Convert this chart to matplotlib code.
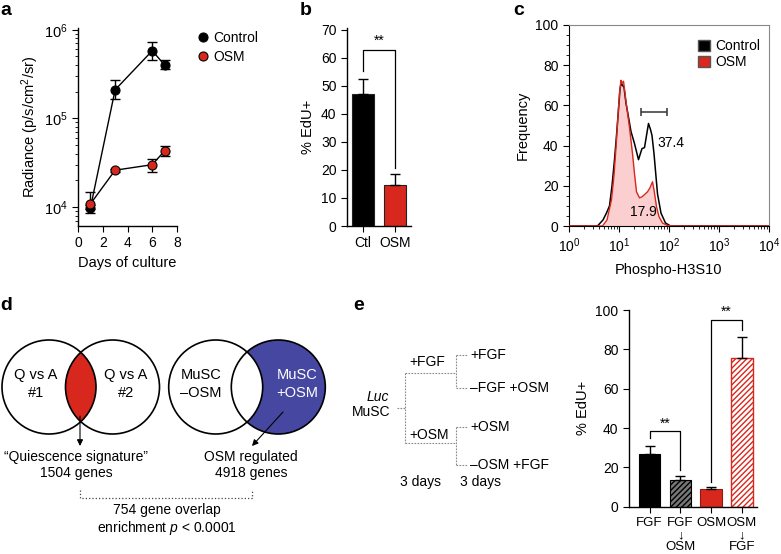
import numpy as np
import matplotlib
matplotlib.use('Agg')
import matplotlib.pyplot as plt
from matplotlib.patches import Circle, Patch
from matplotlib.ticker import MultipleLocator, LogLocator, NullFormatter

plt.rcParams['font.family'] = ['Liberation Sans', 'DejaVu Sans']
plt.rcParams['font.size'] = 10
plt.rcParams['mathtext.fontset'] = 'custom'
plt.rcParams['mathtext.rm'] = 'Liberation Sans'
plt.rcParams['mathtext.it'] = 'Liberation Sans:italic'
plt.rcParams['axes.linewidth'] = 1.0
plt.rcParams['xtick.direction'] = 'out'
plt.rcParams['ytick.direction'] = 'out'
plt.rcParams['xtick.major.size'] = 4
plt.rcParams['ytick.major.size'] = 4
plt.rcParams['xtick.minor.size'] = 2.5
plt.rcParams['ytick.minor.size'] = 2.5

RED = '#d8281d'
BLUE = '#4547a0'
PINK = '#fbcfcf'

# ---- panel a: radiance over days
days = [1, 3, 6, 7]
ctrl_rad = [9700, 210000, 580000, 400000]
ctrl_lo = [8500, 165000, 450000, 360000]
ctrl_hi = [10500, 270000, 730000, 450000]
osm_rad = [10800, 26000, 30000, 43000]
osm_lo = [9600, 25000, 25000, 38000]
osm_hi = [14900, 27000, 35000, 49000]

# ---- panel b: % EdU+
b_groups = ['Ctl', 'OSM']
b_vals = [47, 14.5]
b_err = [5.5, 4.0]
b_bracket = [55.4, 62.9, 20.7]  # left leg bottom, top, right leg bottom

# ---- panel c: histograms (log10 of phospho-H3S10, frequency)
ctrl_logx = [0, 0.57, 0.68, 0.75, 0.81, 0.86, 0.91, 0.95, 0.99, 1.02, 1.04, 1.07,
             1.10, 1.14, 1.17, 1.24, 1.31, 1.39, 1.44, 1.46, 1.51, 1.55, 1.59,
             1.63, 1.66, 1.70, 1.77, 1.84, 1.93, 2.03, 4]
ctrl_freq = [0, 0, 3, 6.5, 10, 20, 33, 45, 58, 68, 71, 70,
             69, 61, 57, 47, 41, 33, 37, 38.5, 39, 45, 51,
             48, 45, 36, 16, 6.4, 1.5, 0, 0]
osm_logx = [0, 0.67, 0.76, 0.85, 0.90, 0.94, 0.98, 1.01, 1.04, 1.06, 1.09, 1.14,
            1.21, 1.27, 1.31, 1.35, 1.41, 1.46, 1.50, 1.57, 1.62, 1.67, 1.70,
            1.75, 1.80, 1.87, 1.97, 2.1, 4]
osm_freq = [0, 0, 3, 13, 25, 39, 55, 66, 72.5, 71, 72, 62,
            49, 36, 26, 17, 14, 14.5, 15.4, 17, 19, 22, 18,
            9.6, 4.6, 1.5, 0.2, 0, 0]
gate = [27.5, 93, 56.7]
c_pcts = ['37.4', '17.9']
c_decades = [0, 1, 2, 3, 4]

# ---- panel e: % EdU+ after switch
e_groups = ['FGF', 'FGF\n\u2193\nOSM', 'OSM', 'OSM\n\u2193\nFGF']
e_vals = [27, 13.6, 8.8, 75.8]
e_err = [4, 1.9, 1.4, 10.3]
e_bracket1 = [34.7, 38.3, 18.6]
e_bracket2 = [12.7, 95, 90]

W, H = 781, 554
fig = plt.figure(figsize=(W / 100, H / 100), dpi=100)


def px_axes(x0, y0, x1, y1):
    return fig.add_axes([x0 / W, 1 - y1 / H, (x1 - x0) / W, (y1 - y0) / H])


def clean(ax):
    ax.spines['top'].set_visible(False)
    ax.spines['right'].set_visible(False)


# panel a
ax = px_axes(78, 28, 177, 226)
clean(ax)
ax.set_yscale('log')
ax.set_xlim(0, 8)
ax.set_ylim(10 ** 3.785, 10 ** 6.02)
ax.set_yticks([1e4, 1e5, 1e6])
ax.yaxis.set_minor_locator(LogLocator(base=10, subs=np.arange(2, 10), numticks=10))
ax.yaxis.set_minor_formatter(NullFormatter())
ax.tick_params(axis='y', labelsize=10.5)
ax.set_xticks([0, 2, 4, 6, 8])
for vals, lo, hi, fc, lab in [(ctrl_rad, ctrl_lo, ctrl_hi, 'black', 'Control'),
                              (osm_rad, osm_lo, osm_hi, RED, 'OSM')]:
    v = np.array(vals)
    ax.errorbar(days, v, yerr=[v - np.array(lo), np.array(hi) - v], fmt='none',
                ecolor='black', elinewidth=1, capsize=3.3, capthick=1, zorder=2)
    ax.plot(days, v, '-o', color='black', lw=1, mfc=fc, mec='black', ms=6.5,
            mew=0.8, label=lab, zorder=3, clip_on=False)
ax.set_xlabel('Days of culture', fontsize=10.5)
ax.set_ylabel('Radiance (p/s/cm$^2$/sr)', fontsize=10.5, labelpad=2)
ax.legend(loc='upper left', bbox_to_anchor=(190 / W, 1 - 24 / H),
          bbox_transform=fig.transFigure, frameon=False, handlelength=0.8,
          handletextpad=0.4, borderpad=0, labelspacing=0.35,
          markerscale=1, fontsize=10)
for ln in ax.get_legend().get_lines():
    ln.set_linestyle('none')

# panel b
ax = px_axes(347, 28, 411, 226)
clean(ax)
xb = np.arange(len(b_groups))
ax.bar(xb, b_vals, width=0.66, color=['black', RED], edgecolor='#222', lw=0.8)
ax.errorbar(xb, b_vals, yerr=[[0, 0], b_err], fmt='none', ecolor='black',
            elinewidth=1, capsize=3.3, capthick=1)
ax.set_xlim(-0.5, 1.5)
ax.set_ylim(0, 70.7)
ax.set_yticks(range(0, 71, 10))
ax.set_xticks(xb)
ax.set_xticklabels(b_groups)
ax.plot([0, 0, 1, 1], [b_bracket[0], b_bracket[1], b_bracket[1], b_bracket[2]],
        color='black', lw=0.9)
ax.text(0.5, b_bracket[1] + 0.8, '**', ha='center', va='bottom', fontsize=10)
ax.set_ylabel('% EdU+', fontsize=10.5, labelpad=4)

# panel c
ax = px_axes(569, 25, 769, 226)
for s in ax.spines.values():
    s.set_linewidth(0.8)
ax.spines['top'].set_color('#888')
ax.spines['right'].set_color('#888')
ax.set_xscale('log')
ax.set_xlim(1, 1e4)
ax.set_ylim(0, 100)
ax.yaxis.set_major_locator(MultipleLocator(20))
ax.yaxis.set_minor_locator(MultipleLocator(5))
ax.set_xticks([10.0 ** d for d in c_decades])
ax.set_xticklabels(['$10^{%d}$' % d for d in c_decades], fontsize=10)
ax.xaxis.set_minor_locator(LogLocator(base=10, subs=np.arange(2, 10), numticks=10))
ax.xaxis.set_minor_formatter(NullFormatter())
cx = 10 ** np.array(ctrl_logx)
ox = 10 ** np.array(osm_logx)
ax.fill_between(ox, osm_freq, color=PINK, lw=0, zorder=1)
ax.plot(cx, ctrl_freq, color='black', lw=1.1, zorder=3)
ax.plot(ox, osm_freq, color=RED, lw=1.0, zorder=4)
ax.hlines(gate[2], gate[0], gate[1], color='#333', lw=1.1)
ax.vlines([gate[0], gate[1]], gate[2] - 2.2, gate[2] + 2.2, color='#333', lw=1.1)
ax.text(10 ** 1.765, 41.4, c_pcts[0], ha='left', va='center', fontsize=10)
ax.text(10 ** 1.485, 6.9, c_pcts[1], ha='center', va='center', fontsize=10)
ax.set_ylabel('Frequency', fontsize=10.5, labelpad=4)
ax.set_xlabel('Phospho-H3S10', fontsize=10.5, labelpad=6)
ax.legend(handles=[Patch(facecolor='black', edgecolor='#555', label='Control'),
                   Patch(facecolor=RED, edgecolor='#555', label='OSM')],
          loc='upper right', bbox_to_anchor=(1.0, 0.97), frameon=False,
          handlelength=0.9, handleheight=0.9, handletextpad=0.4,
          borderpad=0.1, labelspacing=0.15, fontsize=10)

# panel e bars
ax = px_axes(629, 310, 757, 506.7)
clean(ax)
xe = np.arange(len(e_groups))
ax.bar(xe[0], e_vals[0], width=0.7, color='black', edgecolor='black', lw=0.8)
ax.bar(xe[1], e_vals[1], width=0.7, color='#777', edgecolor='black', lw=0.8,
       hatch='//////')
ax.bar(xe[2], e_vals[2], width=0.7, color=RED, edgecolor='#8a1a12', lw=0.8)
ax.bar(xe[3], e_vals[3], width=0.7, color='white', edgecolor=RED, lw=1.0,
       hatch='//////')
ax.errorbar(xe, e_vals, yerr=[[0] * 4, e_err], fmt='none', ecolor='black',
            elinewidth=1, capsize=3.3, capthick=1)
ax.set_xlim(-0.67, 3.49)
ax.set_ylim(0, 100)
ax.set_yticks(range(0, 101, 20))
ax.set_xticks(xe)
ax.set_xticklabels(e_groups, fontsize=9.5, linespacing=1.0)
for br, (a, b) in [(e_bracket1, (0, 1)), (e_bracket2, (2, 3))]:
    ax.plot([a, a, b, b], [br[0], br[1], br[1], br[2]], color='black', lw=0.9)
    ax.text((a + b) / 2, br[1] + 0.5, '**', ha='center', va='bottom', fontsize=10)
ax.set_ylabel('% EdU+', fontsize=10.5, labelpad=4)

# overlay for schematics (panels d and e) in pixel units
ov = fig.add_axes([0, 0, 1, 1])
ov.set_xlim(0, W)
ov.set_ylim(H, 0)
ov.axis('off')

r = 47
cy = 387
centers = [49, 112.5, 215.7, 278.3]
clip1 = Circle((centers[0], cy), r, transform=ov.transData)
lens = Circle((centers[1], cy), r, facecolor=RED, edgecolor='none')
ov.add_patch(lens)
lens.set_clip_path(clip1)
ov.add_patch(Circle((centers[3], cy), r, facecolor=BLUE, edgecolor='none'))
ov.add_patch(Circle((centers[2], cy), r, facecolor='white', edgecolor='none'))
for c in centers:
    ov.add_patch(Circle((c, cy), r, facecolor='none', edgecolor='black', lw=1.2))
ov.text(36, 384, 'Q vs A\n#1', ha='center', va='center', linespacing=1.3, fontsize=10.5)
ov.text(126, 384, 'Q vs A\n#2', ha='center', va='center', linespacing=1.3, fontsize=10.5)
ov.text(201, 384, 'MuSC\n\u2013OSM', ha='center', va='center', linespacing=1.3,
        fontsize=10.5)
ov.text(297, 384, 'MuSC\n+OSM', ha='center', va='center', linespacing=1.3,
        color='white', fontsize=10.5)
ov.annotate('', xy=(80, 446), xytext=(80, 416),
            arrowprops=dict(arrowstyle='-|>', lw=0.8, color='black',
                            mutation_scale=9, shrinkA=0, shrinkB=0))
ov.annotate('', xy=(252, 446), xytext=(283, 412),
            arrowprops=dict(arrowstyle='-|>', lw=0.8, color='black',
                            mutation_scale=9, shrinkA=0, shrinkB=0))
ov.text(76, 465, '\u201cQuiescence signature\u201d\n1504 genes', ha='center',
        va='center', linespacing=1.2)
ov.text(251, 465, 'OSM regulated\n4918 genes', ha='center', va='center',
        linespacing=1.2)
ov.plot([80, 80, 252, 252], [490, 498, 498, 490], ls=':', lw=0.9, color='#444')
ov.text(167, 520, '754 gene overlap\nenrichment $p$ < 0.0001', ha='center',
        va='center', linespacing=1.2)

# tree schematic (panel e)
tree = dict(ls=(0, (1.5, 1.2)), lw=0.8, color='#888')
ov.plot([396.7, 405], [408, 408], **tree)
ov.plot([405, 405], [373, 443], **tree)
ov.plot([405, 456], [373, 373], **tree)
ov.plot([405, 456], [443, 443], **tree)
ov.plot([456, 456], [355, 388], **tree)
ov.plot([456, 456], [427, 465], **tree)
for yy in [355, 388, 427, 465]:
    ov.plot([456, 467], [yy, yy], **tree)
ov.text(470, 355, '+FGF', va='center')
ov.text(470, 388, '\u2013FGF +OSM', va='center')
ov.text(470, 427, '+OSM', va='center')
ov.text(470, 465, '\u2013OSM +FGF', va='center')
ov.text(409, 362, '+FGF', va='center')
ov.text(409, 435, '+OSM', va='center')
ov.text(378, 397, 'Luc', ha='center', va='center', style='italic')
ov.text(371, 412, 'MuSC', ha='center', va='center')
ov.text(421, 482, '3 days', ha='center', va='center')
ov.text(480, 482, '3 days', ha='center', va='center')

# panel letters
for lab, x, y in [('a', 0, 15), ('b', 300, 15), ('c', 513, 15),
                  ('d', 0, 310), ('e', 353, 310)]:
    fig.text(x / W, 1 - y / H, lab, fontsize=14, fontweight='bold',
             ha='left', va='baseline')

fig.savefig('out.png', dpi=100)
